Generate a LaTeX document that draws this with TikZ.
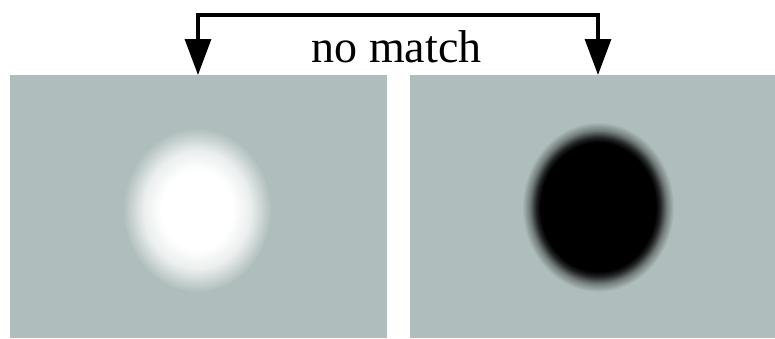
\documentclass[tikz,border=0pt]{standalone}
\usepackage{fontspec}
\setmainfont{Liberation Serif}
\usetikzlibrary{arrows.meta}
\definecolor{bggray}{RGB}{175,190,188}
\pgfdeclareradialshading{whiteblob}{\pgfpoint{0bp}{0bp}}{color(0bp)=(white); color(12bp)=(white); color(18bp)=(white!75!bggray); color(25bp)=(bggray); color(50bp)=(bggray)}
\pgfdeclareradialshading{blackblob}{\pgfpoint{0bp}{0bp}}{color(0bp)=(black); color(19bp)=(black); color(20.5bp)=(black!80!bggray); color(22.5bp)=(black!35!bggray); color(25bp)=(bggray); color(50bp)=(bggray)}
\tikzset{
  panel/.style={fill=bggray, draw=none, inner sep=0pt, minimum height=263pt},
  tip/.style={Triangle[width=26pt,length=36pt]},
  label/.style={font=\fontsize{46pt}{50pt}\selectfont, inner sep=0pt, anchor=base}
}
\begin{document}
\begin{tikzpicture}[x=1pt,y=-1pt]
\useasboundingbox (0,0) rectangle (775,338);
\fill[white] (0,0) rectangle (775,338);
\node[panel, minimum width=377pt, anchor=north west] (left) at (10,75) {};
\node[panel, minimum width=365pt, anchor=north west] (right) at (410,75) {};
\shade[shading=whiteblob] (197,210) ellipse [x radius=74, y radius=82];
\shade[shading=blackblob] (598,207) ellipse [x radius=76, y radius=85];
\coordinate (tL) at (198,75);
\coordinate (tR) at (598,75);
\coordinate (top) at (398,15);
\draw[line width=3.2pt, {Triangle[width=26pt,length=36pt]}-{Triangle[width=26pt,length=36pt]}] (tL) |- (top) -| (tR);
\node[label] (nm) at (396.5,62) {no match};
\end{tikzpicture}
\end{document}
